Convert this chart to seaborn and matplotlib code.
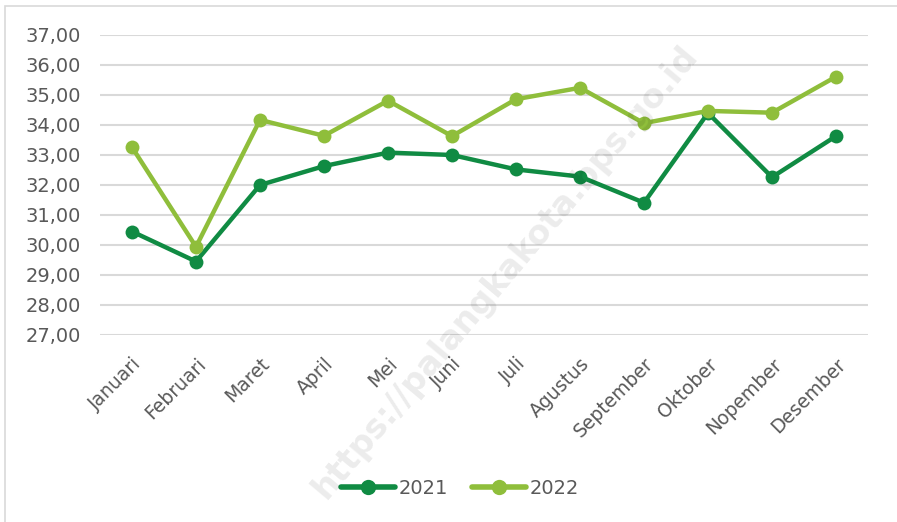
import numpy as np
import pandas as pd
import seaborn as sns
import matplotlib.pyplot as plt
from matplotlib.patches import Rectangle
from matplotlib.lines import Line2D

months = ['Januari', 'Februari', 'Maret', 'April', 'Mei', 'Juni', 'Juli',
          'Agustus', 'September', 'Oktober', 'Nopember', 'Desember']
vals_2021 = [30.45, 29.45, 32.00, 32.63, 33.08, 33.00, 32.52, 32.28, 31.41, 34.40, 32.26, 33.63]
vals_2022 = [33.26, 29.94, 34.17, 33.64, 34.81, 33.63, 34.86, 35.24, 34.06, 34.47, 34.41, 35.61]
years = ['2021', '2022']
colors = {'2021': '#108B43', '2022': '#8FBE3B'}

df = pd.DataFrame({
    'Bulan': months * 2,
    'Nilai': vals_2021 + vals_2022,
    'Tahun': [years[0]] * len(months) + [years[1]] * len(months),
})

sns.set_style('white')
plt.rcParams['font.family'] = ['DejaVu Sans']
text_col = '#595959'

fig = plt.figure(figsize=(8.97, 5.22), dpi=100)
ax = fig.add_axes([100 / 897, 1 - 335 / 522, 768 / 897, 300 / 522])

# outer chart frame (only left/top visible in the crop)
fig.patches.append(Rectangle((5 / 897, -0.1), 1.2, 1 - 6 / 522 + 0.1,
                             transform=fig.transFigure, fill=False,
                             edgecolor='#D9D9D9', linewidth=1.2, zorder=0))

sns.lineplot(data=df, x='Bulan', y='Nilai', hue='Tahun', palette=colors,
             marker='o', markersize=10, markeredgewidth=0, linewidth=3.2,
             sort=False, legend=False, ax=ax, zorder=3)

ax.set_xlim(-0.5, len(months) - 0.5)
ax.set_ylim(27, 37)
ax.set_yticks(np.arange(27, 38, 1))
ax.set_yticklabels([f'{v:.2f}'.replace('.', ',') for v in np.arange(27, 38, 1)])
ax.yaxis.grid(True, color='#D9D9D9', linewidth=1.5)
ax.set_axisbelow(True)
for s in ax.spines.values():
    s.set_visible(False)
ax.tick_params(axis='both', length=0, colors=text_col, labelsize=14)
ax.tick_params(axis='y', pad=14)
ax.tick_params(axis='x', pad=14)
plt.setp(ax.get_xticklabels(), rotation=45, ha='right', rotation_mode='anchor', fontsize=13.5)
ax.set_xlabel('')
ax.set_ylabel('')

handles = [Line2D([0], [0], color=colors[y], linewidth=4, marker='o', markersize=11,
                  markeredgewidth=0) for y in years]
leg = fig.legend(handles, years, loc='center', bbox_to_anchor=(460 / 897, 1 - 488 / 522),
                 ncol=2, frameon=False, fontsize=14, handlelength=2.8,
                 columnspacing=1.2, handletextpad=0.2)
for t in leg.get_texts():
    t.set_color(text_col)

# watermark
fig.text(505 / 897, 1 - 272 / 522, 'https://palangkakota.bps.go.id', rotation=50,
         ha='center', va='center', fontsize=24, fontweight='bold',
         color='#000000', alpha=0.08, zorder=10)

fig.savefig('out.png', dpi=100)
